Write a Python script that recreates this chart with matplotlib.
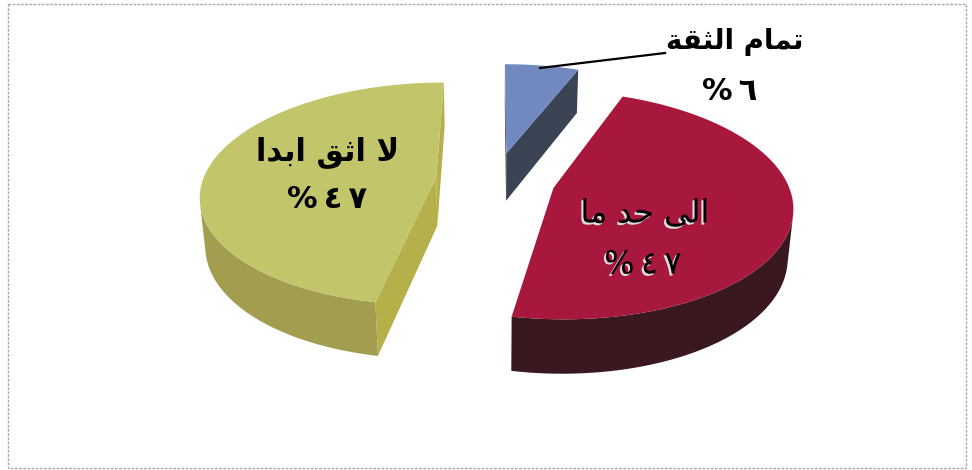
import numpy as np
import matplotlib
matplotlib.use("Agg")
import matplotlib.pyplot as plt
from matplotlib.patches import Polygon, Rectangle
import matplotlib.patheffects as pe

# data
labels = ["تمام الثقة", "الى حد ما", "لا اثق ابدا"]
values = [6, 47, 47]
top_colors = ["#7189bf", "#a8173c", "#c3c56a"]
wall_colors = ["#4a5366", "#3a1820", "#a39e4f"]
cut_colors = ["#3b4454", "#2e161c", "#b6b04a"]

# view of the 3d pie
elev = np.radians(28)
dist = 6.0
fx, fy = 1400, 1400
cx, cy = 495.5, 180
thick = 0.24
explode = 0.256

cam = dist * np.array([0.0, -np.cos(elev), np.sin(elev)])


def project(X, Y, Z):
    depth = dist + Y * np.cos(elev) - Z * np.sin(elev)
    sx = fx * X / depth
    sy = fy * (Y * np.sin(elev) + Z * np.cos(elev)) / depth
    return np.column_stack([cx + sx, cy - sy])


# arabic letters: isolated, final, initial, medial
FORMS = {
    'ا': ('\ufe8d', '\ufe8e', None, None),
    'ب': ('\ufe8f', '\ufe90', '\ufe91', '\ufe92'),
    'ت': ('\ufe95', '\ufe96', '\ufe97', '\ufe98'),
    'ث': ('\ufe99', '\ufe9a', '\ufe9b', '\ufe9c'),
    'ح': ('\ufea1', '\ufea2', '\ufea3', '\ufea4'),
    'د': ('\ufea9', '\ufeaa', None, None),
    'ق': ('\ufed5', '\ufed6', '\ufed7', '\ufed8'),
    'ل': ('\ufedd', '\ufede', '\ufedf', '\ufee0'),
    'م': ('\ufee1', '\ufee2', '\ufee3', '\ufee4'),
    'ة': ('\ufe93', '\ufe94', None, None),
    'ى': ('\ufeef', '\ufef0', None, None),
}
LAM_ALEF = ('\ufefb', '\ufefc', None, None)
DIGITS = '٠١٢٣٤٥٦٧٨٩'


def shape(text):
    glyphs = []
    i = 0
    while i < len(text):
        c = text[i]
        if c == 'ل' and i + 1 < len(text) and text[i + 1] == 'ا':
            glyphs.append(LAM_ALEF)
            i += 2
            continue
        glyphs.append(FORMS.get(c, c))
        i += 1
    out = []
    for k, g in enumerate(glyphs):
        if isinstance(g, str):
            out.append(g)
            continue
        prev = glyphs[k - 1] if k > 0 else None
        nxt = glyphs[k + 1] if k + 1 < len(glyphs) else None
        jp = isinstance(prev, tuple) and prev[2] is not None
        jn = g[2] is not None and isinstance(nxt, tuple)
        if jp and jn:
            out.append(g[3])
        elif jp:
            out.append(g[1])
        elif jn:
            out.append(g[2])
        else:
            out.append(g[0])
    return ''.join(reversed(out))


def pct(v, sep='\u2009'):
    return '%' + sep + sep.join(DIGITS[int(d)] for d in str(v))


fig = plt.figure(figsize=(9.72, 4.70), dpi=100)
ax = fig.add_axes([0, 0, 1, 1])
ax.set_xlim(0, 972)
ax.set_ylim(470, 0)
ax.axis('off')

ax.add_patch(Rectangle((8, 4), 958, 464, fill=False, ec='#a8a8b0', lw=1, ls=(0, (2, 1))))

# slices clockwise from 12 o'clock
total = float(sum(values))
start = 90.0
for i, v in enumerate(values):
    sweep = 360.0 * v / total
    a1, a2 = np.radians(start), np.radians(start - sweep)
    start -= sweep
    mid = (a1 + a2) / 2
    ox, oy = explode * np.cos(mid), explode * np.sin(mid)
    th = np.linspace(a1, a2, 120)
    rx, ry = ox + np.cos(th), oy + np.sin(th)
    top = project(rx, ry, np.zeros_like(th))
    bot = project(rx, ry, np.full_like(th, -thick))
    apex_t = project(np.array([ox]), np.array([oy]), np.array([0.0]))
    apex_b = project(np.array([ox]), np.array([oy]), np.array([-thick]))

    # cut faces
    for a, sgn, k in [(a1, 1, 0), (a2, -1, -1)]:
        n = np.array([np.cos(a + sgn * np.pi / 2), np.sin(a + sgn * np.pi / 2), 0])
        if n @ (cam - np.array([ox, oy, 0])) > 0:
            poly = np.vstack([apex_t, top[k], bot[k], apex_b])
            ax.add_patch(Polygon(poly, closed=True, fc=cut_colors[i], ec='none'))

    # outer wall, only the part facing the camera
    tm = (th[:-1] + th[1:]) / 2
    P = np.column_stack([ox + np.cos(tm), oy + np.sin(tm), np.zeros_like(tm)])
    N = np.column_stack([np.cos(tm), np.sin(tm), np.zeros_like(tm)])
    vis = np.einsum('ij,ij->i', N, cam - P) > 0
    idx = np.where(vis)[0]
    if len(idx):
        runs = np.split(idx, np.where(np.diff(idx) > 1)[0] + 1)
        for r in runs:
            j0, j1 = r[0], r[-1] + 1
            poly = np.vstack([top[j0:j1 + 1], bot[j0:j1 + 1][::-1]])
            ax.add_patch(Polygon(poly, closed=True, fc=wall_colors[i], ec='none'))

    ax.add_patch(Polygon(np.vstack([apex_t, top]), closed=True, fc=top_colors[i], ec='none'))

# labels
bold = dict(family='DejaVu Sans', weight='bold', color='black', ha='center', va='center')
ax.plot([540, 665], [68, 53], color='black', lw=1.6)
ax.text(735, 42, shape(labels[0]), fontsize=20, **bold)
ax.text(730, 92, pct(values[0]), fontsize=22, **bold)

ax.text(328, 152, shape(labels[2]), fontsize=22, **bold)
ax.text(327, 200, pct(values[2]), fontsize=22, **bold)

t1 = ax.text(645, 214, shape(labels[1]), family='DejaVu Sans', fontsize=23,
             color='black', ha='center', va='center')
t2 = ax.text(643, 265, pct(values[1]), family='DejaVu Sans', fontsize=23,
             color='black', ha='center', va='center')
for t in (t1, t2):
    t.set_path_effects([pe.withSimplePatchShadow(offset=(-1.5, -1.5), shadow_rgbFace='#dddddd', alpha=1)])

fig.savefig('out.png', dpi=100)
